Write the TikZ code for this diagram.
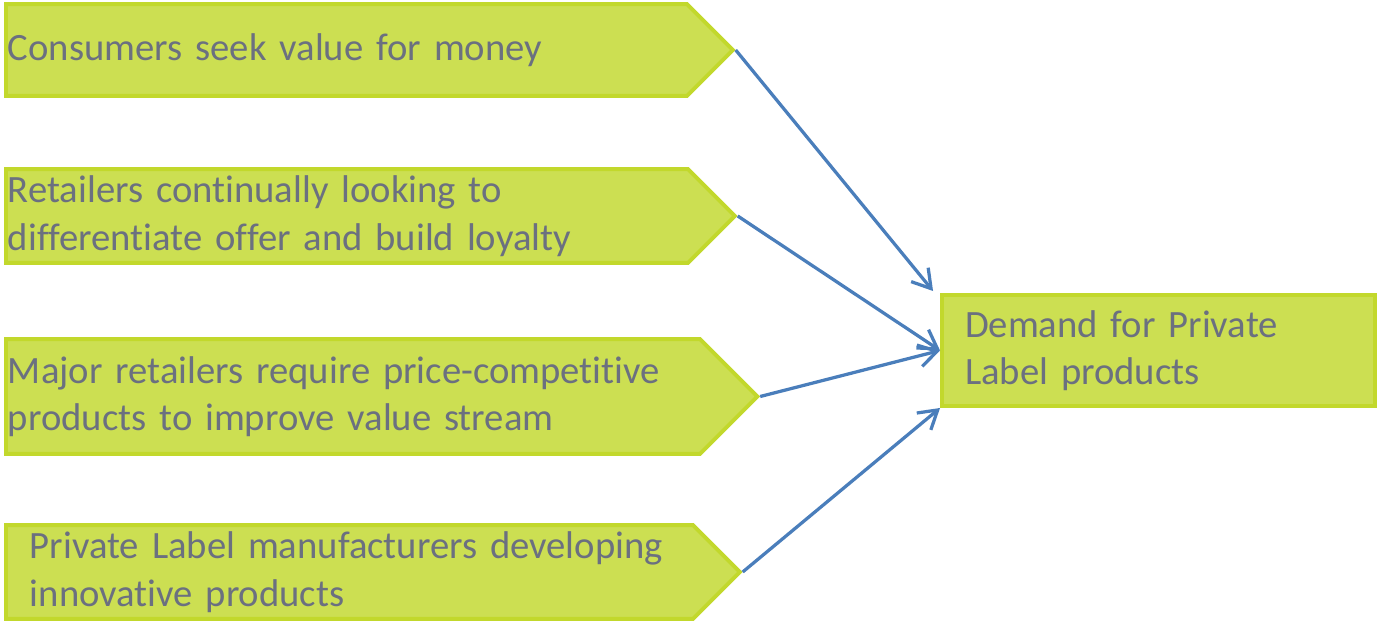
\documentclass[tikz,border=0pt]{standalone}
\usepackage{fontspec}
\setmainfont{Carlito}[Ligatures=NoCommon]
\usetikzlibrary{arrows.meta, shapes.symbols, positioning}
\definecolor{boxGreen}{HTML}{CCDF52}
\definecolor{boxEdge}{HTML}{C2D82C}
\definecolor{textGrey}{HTML}{6B7080}
\definecolor{linkBlue}{HTML}{4A7EBB}
\tikzset{
    driver/.style={signal, signal to=east, signal pointer angle=90, anchor=west, draw=boxEdge, fill=boxGreen, line width=0.08cm, text=textGrey, align=left, inner xsep=0.04cm, inner ysep=0pt, font=\fontsize{22}{27}\selectfont},
    outcome/.style={rectangle, draw=boxEdge, fill=boxGreen, line width=0.08cm, text=textGrey, align=left, inner xsep=0.46cm, inner ysep=0pt, font=\fontsize{22}{27}\selectfont},
    pushEdge/.style={-{Straight Barb[length=0.36cm, width=0.44cm]}, draw=linkBlue, line width=0.065cm},
}

\begin{document}
\begin{tikzpicture}[x=0.02cm, y=-0.02cm]
    \useasboundingbox (0,0) rectangle (1377,624);

    % drivers on the left
    \node[driver, text width=13.54cm, minimum height=1.84cm] (money) at (4,50) {Consumers seek value for money};
    \node[driver, text width=13.56cm, minimum height=1.88cm] (loyalty) at (4,216) {Retailers continually looking to\\differentiate offer and build loyalty};
    \node[driver, text width=13.8cm, minimum height=2.3cm] (stream) at (4,396.5) {Major retailers require price-competitive\\products to improve value stream};
    \node[driver, text width=13.66cm, minimum height=1.88cm] (makers) at (4,572) {\hspace*{0.44cm}Private Label manufacturers developing\\\hspace*{0.44cm}innovative products};

    % result box
    \node[outcome, text width=7.74cm, minimum height=2.22cm] (demand) at (1158.5,350.5) {Demand for Private\\Label products};

    \draw[pushEdge] (money.east) -- ([shift={(-7,-2)}]demand.north west);
    \draw[pushEdge] (loyalty.east) -- (demand.west);
    \draw[pushEdge] (stream.east) -- (demand.west);
    \draw[pushEdge] (makers.east) -- (demand.south west);
\end{tikzpicture}
\end{document}
